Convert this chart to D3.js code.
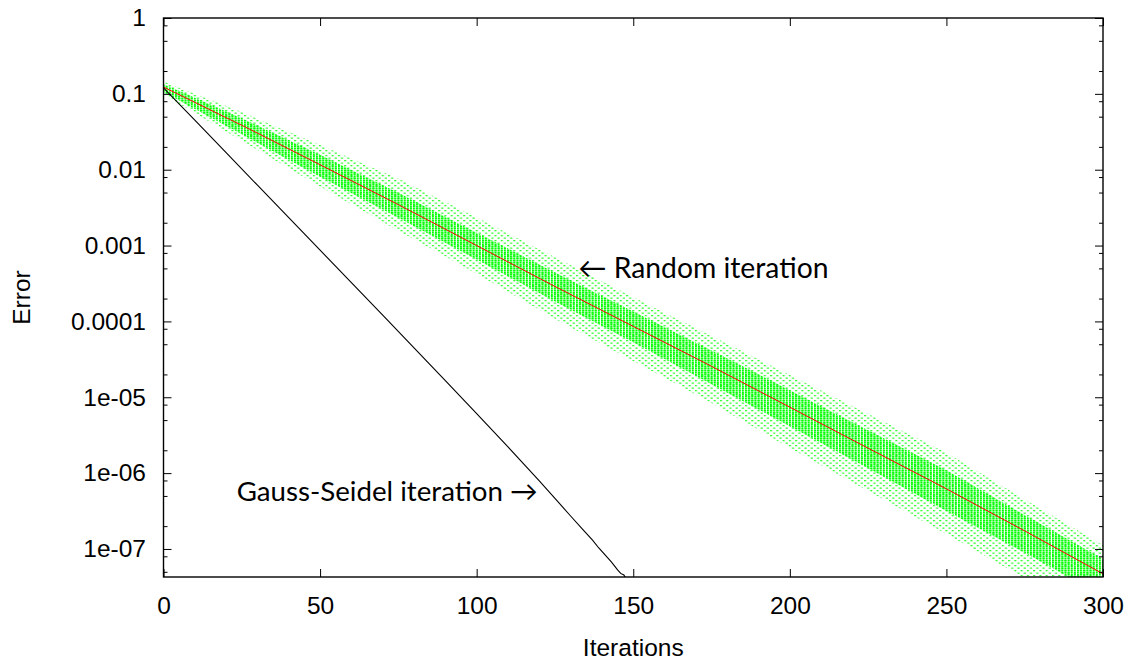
<!DOCTYPE html>
<html>
<head>
<meta charset="utf-8">
<script src="https://cdn.jsdelivr.net/npm/d3@7"></script>
<style>
  body { margin: 0; background: #fff; }
  .axis text { font-family: "Liberation Sans", Arial, sans-serif; font-size: 24.5px; fill: #000; }
  .axis line { stroke: #000; stroke-width: 1; }
  .axis path { display: none; }
</style>
</head>
<body>
<svg id="chart" width="1130" height="660"></svg>
<script>
// Gauss-Seidel iteration: error per iteration
var gsIter = [0, 10, 20, 30, 40, 50, 60, 70, 80, 90, 100, 110, 120, 126, 130, 134, 137, 139, 141, 143, 145, 146, 147, 148]
var gsErr  = [0.12, 0.0449, 0.0168, 0.00625, 0.00233, 8.7e-4, 3.25e-4, 1.21e-4, 4.47e-5, 1.66e-5, 6.1e-6, 2.21e-6, 7.88e-7,
              4.17e-7, 2.72e-7, 1.78e-7, 1.31e-7, 1.03e-7, 8.34e-8, 6.74e-8, 5.29e-8, 4.76e-8, 4.54e-8, 3.9e-8]

// Random iteration: mean error (red) and spread of the runs (green cloud)
var rndIter     = [0, 25, 50, 75, 100, 125, 150, 175, 200, 225, 250, 275, 300]
var rndMean     = [0.123, 0.0385, 0.01164, 0.00346, 1.0e-3, 2.89e-4, 8.6e-5, 2.56e-5, 7.4e-6, 2.13e-6, 6.2e-7, 1.73e-7, 4.7e-8]
var rndOuterTop = [0.146, 0.0575, 0.0212, 0.0076, 0.00235, 7.0e-4, 2.08e-4, 6.4e-5, 1.97e-5, 6.0e-6, 1.85e-6, 4.5e-7, 1.12e-7]
var rndCoreTop  = [0.135, 0.0476, 0.01575, 0.00498, 0.00148, 4.41e-4, 1.35e-4, 4.15e-5, 1.24e-5, 3.68e-6, 1.09e-6, 2.8e-7, 7.4e-8]
var rndCoreBot  = [0.106, 0.0293, 0.00809, 0.00233, 6.55e-4, 1.83e-4, 5.3e-5, 1.48e-5, 4.15e-6, 1.16e-6, 3.16e-7, 8.9e-8, 2.4e-8]
var rndOuterBot = [0.098, 0.0240, 0.0060, 0.00157, 4.25e-4, 1.08e-4, 3.0e-5, 8.4e-6, 2.15e-6, 5.8e-7, 1.58e-7, 4.1e-8, 1.1e-8]

var xTicks = [0, 50, 100, 150, 200, 250, 300]
var yTicks = [1, 0.1, 0.01, 0.001, 0.0001, 1e-5, 1e-6, 1e-7]
var yTickLabels = ['1', '0.1', '0.01', '0.001', '0.0001', '1e-05', '1e-06', '1e-07']
var yMinorSteps = [2, 5, 8]

var svg = d3.select('#chart')
var plotL = 163.5, plotR = 1103, plotT = 18, plotB = 577

var x = d3.scaleLinear().domain([0, 300]).range([plotL, plotR])
var y = d3.scaleLog().domain([4.27e-8, 1]).range([plotB, plotT])

var defs = svg.append('defs')
defs.append('clipPath').attr('id', 'plot-clip')
  .append('rect')
  .attr('x', plotL).attr('y', plotT)
  .attr('width', plotR - plotL).attr('height', plotB - plotT)

// cloud texture: one column of short dashes per iteration
var step = x(1) - x(0)
var dense = defs.append('pattern').attr('id', 'dense')
  .attr('patternUnits', 'userSpaceOnUse')
  .attr('x', x(0) - 1).attr('y', 0)
  .attr('width', step).attr('height', 2)
dense.append('rect').attr('width', 2.1).attr('height', 1.6).attr('fill', '#00ff00')

var sparse = defs.append('pattern').attr('id', 'sparse')
  .attr('patternUnits', 'userSpaceOnUse')
  .attr('x', x(0) - 1).attr('y', 0)
  .attr('width', step * 2).attr('height', 5)
sparse.append('rect').attr('x', 0).attr('y', 0).attr('width', 2.1).attr('height', 1.3).attr('fill', '#33ff33')
sparse.append('rect').attr('x', step).attr('y', 2.5).attr('width', 2.1).attr('height', 1.3).attr('fill', '#33ff33')

var plot = svg.append('g').attr('clip-path', 'url(#plot-clip)')

function band(lo, hi) {
  return d3.area()
    .x(function(d, i) { return x(rndIter[i]) })
    .y0(function(d, i) { return y(lo[i]) })
    .y1(function(d, i) { return y(hi[i]) })(rndIter)
}

plot.append('path').attr('d', band(rndOuterBot, rndOuterTop)).attr('fill', 'url(#sparse)')
plot.append('path').attr('d', band(rndCoreBot, rndCoreTop)).attr('fill', 'url(#dense)')

var line = d3.line()
plot.append('path')
  .attr('d', line(rndIter.map(function(it, i) { return [x(it), y(rndMean[i])] })))
  .attr('fill', 'none').attr('stroke', '#ff0000').attr('stroke-width', 1)

plot.append('path')
  .attr('d', line(gsIter.map(function(it, i) { return [x(it), y(gsErr[i])] })))
  .attr('fill', 'none').attr('stroke', '#000').attr('stroke-width', 1.1)

// axes (ticks point inwards, mirrored on top / right)
var minor = []
yTicks.concat([1e-8]).forEach(function(d) {
  yMinorSteps.forEach(function(m) {
    var v = d * m
    if (v > y.domain()[0] && v < 1) minor.push(v)
  })
})

svg.append('g').attr('class', 'axis')
  .attr('transform', 'translate(0,' + plotB + ')')
  .call(d3.axisBottom(x).tickValues(xTicks).tickFormat(d3.format('d'))
    .tickSizeInner(-8).tickSizeOuter(0).tickPadding(19.7))
svg.append('g').attr('class', 'axis')
  .attr('transform', 'translate(0,' + plotT + ')')
  .call(d3.axisTop(x).tickValues(xTicks).tickFormat('').tickSizeInner(-8).tickSizeOuter(0))

svg.append('g').attr('class', 'axis')
  .attr('transform', 'translate(' + plotL + ',0)')
  .call(d3.axisLeft(y).tickValues(yTicks)
    .tickFormat(function(d, i) { return yTickLabels[i] })
    .tickSizeInner(-8).tickSizeOuter(0).tickPadding(17.5))
svg.append('g').attr('class', 'axis')
  .attr('transform', 'translate(' + plotL + ',0)')
  .call(d3.axisLeft(y).tickValues(minor).tickFormat('').tickSizeInner(-4).tickSizeOuter(0))
svg.append('g').attr('class', 'axis')
  .attr('transform', 'translate(' + plotR + ',0)')
  .call(d3.axisRight(y).tickValues(yTicks).tickFormat('').tickSizeInner(-8).tickSizeOuter(0))
svg.append('g').attr('class', 'axis')
  .attr('transform', 'translate(' + plotR + ',0)')
  .call(d3.axisRight(y).tickValues(minor).tickFormat('').tickSizeInner(-4).tickSizeOuter(0))

svg.append('rect')
  .attr('x', plotL).attr('y', plotT)
  .attr('width', plotR - plotL).attr('height', plotB - plotT)
  .attr('fill', 'none').attr('stroke', '#000').attr('stroke-width', 1.4)

// axis titles
svg.append('text')
  .text('Iterations')
  .attr('x', (plotL + plotR) / 2).attr('y', 656)
  .attr('text-anchor', 'middle')
  .style('font-family', '"Liberation Sans", Arial, sans-serif')
  .style('font-size', '24.5px')

svg.append('text')
  .text('Error')
  .attr('transform', 'translate(30,' + (plotT + plotB) / 2 + ') rotate(-90)')
  .attr('text-anchor', 'middle')
  .style('font-family', '"Liberation Sans", Arial, sans-serif')
  .style('font-size', '24.5px')

// curve labels
svg.append('text')
  .text('\u2190 Random iteration')
  .attr('x', x(132.4)).attr('y', y(3.74e-4))
  .style('font-family', 'Lato, "DejaVu Sans", sans-serif')
  .style('font-size', '28.3px')

svg.append('text')
  .text('Gauss-Seidel iteration \u2192')
  .attr('x', x(119.5)).attr('y', y(4.23e-7))
  .attr('text-anchor', 'end')
  .style('font-family', 'Lato, "DejaVu Sans", sans-serif')
  .style('font-size', '27.7px')
</script>
</body>
</html>
